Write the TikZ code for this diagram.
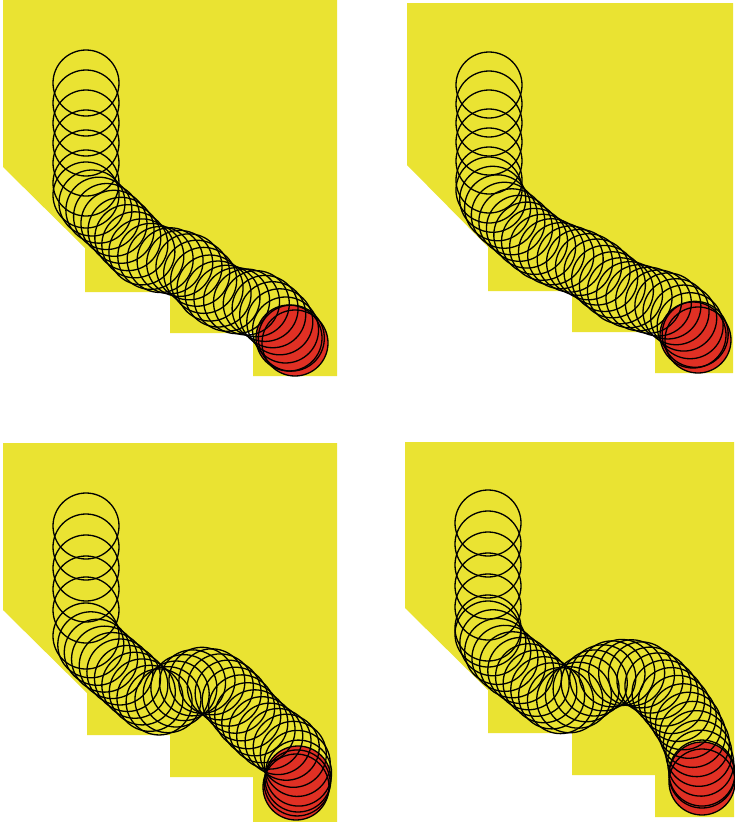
\documentclass[tikz,border=0pt]{standalone}
\usetikzlibrary{decorations.markings}
\definecolor{bgyellow}{RGB}{234,227,50}
\definecolor{ballred}{RGB}{224,48,36}
\begin{document}
\begin{tikzpicture}[x=1pt,y=-1pt,
  stairs/.style={fill=bgyellow,draw=none},
  ring/.style={draw=black,line width=1.3pt},
  redball/.style={fill=ballred,draw=none},
  trail/.style={postaction={decorate},
    decoration={markings,mark=between positions 0 and 1 step #1 with {\draw[ring] (0,0) circle (33pt);}}}]
\useasboundingbox (0,0) rectangle (734,822);

% ---------- stair shapes ----------
\fill[stairs] (3,0) -- (337,0) -- (337,376) -- (253,376) -- (253,333) -- (170,333) -- (170,292) -- (85,292) -- (85,248) -- (3,167) -- cycle;
\fill[stairs] (407,3) -- (733,3) -- (733,373) -- (655,373) -- (655,332) -- (572,332) -- (572,291) -- (488,291) -- (488,247) -- (407,165) -- cycle;
\fill[stairs] (3,443) -- (337,443) -- (337,822) -- (253,822) -- (253,777) -- (170,777) -- (170,735) -- (87,735) -- (87,693) -- (3,610) -- cycle;
\fill[stairs] (405,442) -- (734,442) -- (734,817) -- (655,817) -- (655,775) -- (572,775) -- (572,733) -- (488,733) -- (488,690) -- (405,608) -- cycle;

% ---------- red final balls ----------
\foreach \p in {(289,338),(295,343)} \fill[redball] \p circle (33pt);
\foreach \p in {(693,335),(698,340)} \fill[redball] \p circle (33pt);
\foreach \p in {(298,779),(296,787)} \fill[redball] \p circle (33pt);
\foreach \p in {(702,775),(702,782)} \fill[redball] \p circle (33pt);

% ---------- panel 1 ----------
\path[trail=20pt] (86,83) -- (86,186);
\path[trail=10pt] (86,195) -- (95,207) -- (106,216) -- (118,227) -- (130,240) -- (142,252) -- (156,259) -- (172,261) -- (188,266) -- (200,276) -- (210,288) -- (222,297) -- (238,301) -- (255,303) -- (268,310) -- (280,322) -- (289,335) -- (295,343);
\foreach \p in {(289,338),(295,343)} \draw[ring] \p circle (33pt);

% ---------- panel 2 ----------
\path[trail=19pt] (489,85) -- (489,180);
\path[trail=10pt] (489,190) -- (495,205) -- (505,216) -- (518,227) -- (530,238) -- (542,247) -- (556,254) -- (570,259) -- (584,264) -- (597,272) -- (610,283) -- (622,292) -- (636,297) -- (652,301) -- (668,306) -- (682,316) -- (692,328) -- (698,340);
\foreach \p in {(693,335),(698,340)} \draw[ring] \p circle (33pt);

% ---------- panel 3 ----------
\path[trail=21pt] (86,526) -- (86,630);
\path[trail=10pt] (86,636) -- (92,647) -- (102,657) -- (114,667) -- (127,678) -- (140,690) -- (152,700) -- (163,703) -- (175,695) -- (187,685) -- (200,680) -- (213,682) -- (225,690) -- (237,702) -- (248,716) -- (260,728) -- (272,738) -- (284,745) -- (294,755) -- (299,768) -- (298,780) -- (296,787);
\foreach \p in {(298,779),(296,787)} \draw[ring] \p circle (33pt);

% ---------- panel 4 ----------
\path[trail=21pt] (488,523) -- (488,628);
\path[trail=10pt] (488,634) -- (498,652) -- (510,663) -- (523,672) -- (537,684) -- (550,695) -- (563,702) -- (575,698) -- (587,688) -- (600,679) -- (614,673) -- (628,672) -- (642,675) -- (656,684) -- (668,696) -- (679,710) -- (689,726) -- (696,742) -- (700,758) -- (702,772) -- (702,782);
\foreach \p in {(702,775),(702,782)} \draw[ring] \p circle (33pt);
\end{tikzpicture}
\end{document}
